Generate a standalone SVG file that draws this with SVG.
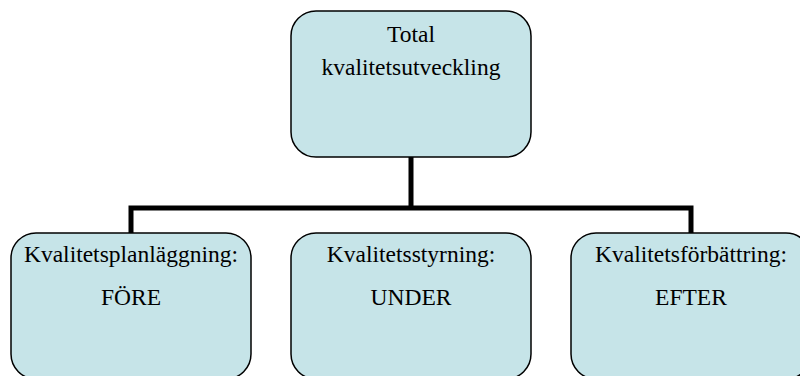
<svg xmlns="http://www.w3.org/2000/svg" width="800" height="376" viewBox="0 0 800 376">
  <style>
    .box { fill: #c6e4e8; stroke: #000; stroke-width: 1.5; }
    .lbl { font-size: 23.5px; fill: #000; text-anchor: middle; }
    .wire { fill: none; stroke: #000; stroke-width: 5; }
  </style>
  <rect width="800" height="376" fill="#fff"/>
  <g id="connectors">
    <path class="wire" d="M411 157 V208 M131 233 V208 H691 V233"/>
  </g>
  <g font-family="Liberation Serif, Times New Roman, DejaVu Serif, serif">
    <g id="total">
      <rect class="box" x="291" y="11" width="240" height="146" rx="25"/>
      <text class="lbl" x="411" y="42">Total</text>
      <text class="lbl" x="411" y="75">kvalitetsutveckling</text>
    </g>
    <g id="fore">
      <rect class="box" x="11" y="233" width="240" height="146" rx="25"/>
      <text class="lbl" x="131" y="262">Kvalitetsplanläggning:</text>
      <text class="lbl" x="131" y="305">FÖRE</text>
    </g>
    <g id="under">
      <rect class="box" x="291" y="233" width="240" height="146" rx="25"/>
      <text class="lbl" x="411" y="262">Kvalitetsstyrning:</text>
      <text class="lbl" x="411" y="305">UNDER</text>
    </g>
    <g id="efter">
      <rect class="box" x="571" y="233" width="240" height="146" rx="25"/>
      <text class="lbl" x="691" y="262">Kvalitetsförbättring:</text>
      <text class="lbl" x="691" y="305">EFTER</text>
    </g>
  </g>
</svg>
